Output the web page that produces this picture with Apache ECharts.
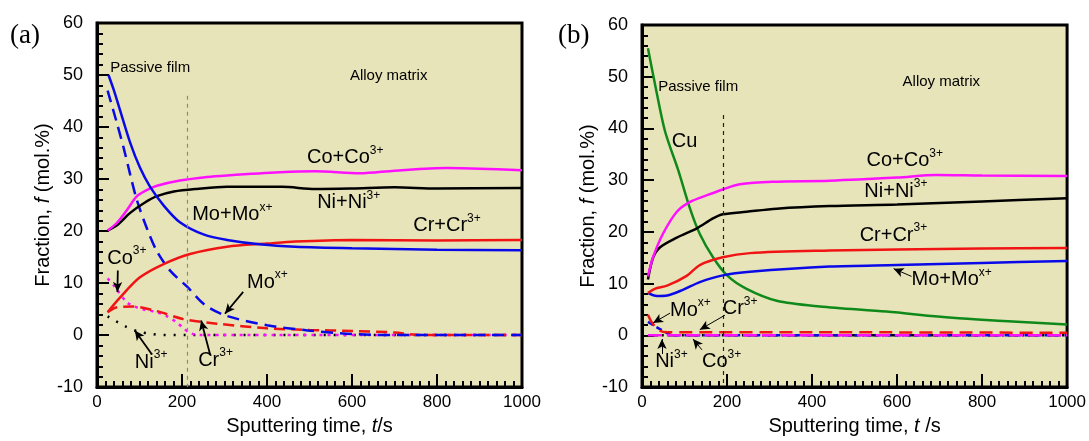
<!DOCTYPE html>
<html><head><meta charset="utf-8">
<script src="https://cdn.jsdelivr.net/npm/echarts@6/dist/echarts.min.js"></script>
<style>html,body{margin:0;padding:0;background:#fff}#c{width:1089px;height:441px}</style>
</head><body><div id="c"></div>
<script>
// ---------- axes ----------
const xMin = 0, xMax = 1000, xStep = 200;
const yMin = -10, yMax = 60, yStep = 10;

// ---------- panel (a) data: [time s, fraction mol.%] ----------
const aMoTotal = [[27,50],[40,47],[54,43.3],[78,37],[101,32.2],[125,28.5],[158,24.8],[195,21.7],[252,19.3],[306,18.3],[388,17.4],[466,17],[600,16.7],[800,16.4],[1000,16.3]];
const aCoTotal = [[25,20.1],[47,21.6],[71,24.1],[94,26.7],[118,27.9],[141,28.7],[195,29.7],[259,30.4],[306,30.7],[430,31.3],[513,31.5],[619,31.1],[700,31.6],[823,32.1],[900,32],[1000,31.7]];
const aNiTotal = [[25,20.1],[47,21.1],[78,23.5],[111,25.4],[141,26.7],[181,27.6],[235,28.1],[306,28.5],[435,28.5],[513,28.1],[600,28.2],[700,28.4],[800,28.2],[1000,28.3]];
const aCrTotal = [[25,4.4],[54,7.2],[101,11.1],[158,13.7],[219,15.6],[306,17],[400,17.6],[466,18],[600,18.3],[800,18.2],[1000,18.3]];
const aMoX = [[25,47],[47,40.7],[63,35.9],[78,30.9],[94,25.9],[118,20.4],[141,16.1],[172,12.4],[212,9.3],[254,5.8],[305,3.7],[400,1.9],[496,0.9],[600,0.2],[700,0],[1000,0]];
const aCr3 = [[25,4.4],[45,5.3],[85,5.5],[141,4.6],[202,3.1],[282,2.2],[400,1.3],[500,1],[600,0.8],[700,0.5],[760,0],[1000,0]];
const aCo3 = [[25,10.9],[40,9.5],[49,8.5],[70,6.3],[85,5.6],[110,4.9],[141,4.4],[165,3.6],[188,2.4],[205,1.2],[219,0.4],[240,0],[1000,0]];
const aNi3 = [[25,3.6],[40,2.9],[66,1.7],[96,0.7],[130,0.2],[153,0],[1000,0]];
const aBoundary = [[212,46],[212,-10]];

// ---------- panel (b) data ----------
const bCu = [[14,55.5],[30,48.8],[54,39.5],[85,32],[113,24.5],[136,19.6],[167,15.1],[200,11.6],[246,9],[317,6.7],[418,5.6],[575,4.6],[730,3.4],[850,2.8],[1000,2.1]];
const bCoTotal = [[14,11.4],[26,15.1],[49,19.6],[82,23.9],[113,25.8],[153,27.1],[190,28.2],[230,29.2],[307,29.7],[441,29.9],[600,30.5],[692,31],[800,30.9],[1000,30.8]];
const bNiTotal = [[14,10.8],[26,15],[42,17],[82,18.9],[129,20.7],[167,22.6],[190,23.4],[246,23.9],[317,24.5],[441,25],[600,25.3],[800,25.9],[1000,26.5]];
const bCrTotal = [[14,8.2],[30,9],[59,9.6],[105,11.5],[136,13.6],[190,15.1],[254,15.9],[441,16.4],[600,16.6],[800,16.8],[1000,16.9]];
const bMoTotal = [[14,8.2],[35,7.6],[59,7.7],[96,8.8],[136,10.3],[190,11.6],[254,12.3],[441,13.3],[600,13.6],[800,14],[1000,14.4]];
const bCr3 = [[14,4],[24,2.4],[42,0.9],[60,0.6],[400,0.6],[1000,0.5]];
const bMoX = [[14,2.6],[28,1.9],[49,0.9],[73,0],[1000,0]];
const bNi3 = [[14,0],[1000,0]];
const bCo3 = [[14,0],[1000,0]];
const bBoundary = [[190,42.6],[190,-10]];

// ---------- annotations (data coords) ----------
const aTexts = [
  ['Passive film', 31, 51.3, 'p'], ['Alloy matrix', 595, 49.8, 'p'],
  ['{n|Co+Co}{s|3+}', 494, 34.1, 'r'], ['{n|Ni+Ni}{s|3+}', 518, 25.4, 'r'],
  ['{n|Cr+Cr}{s|3+}', 744, 21.1, 'r'], ['{n|Mo+Mo}{s|x+}', 224, 23.1, 'r'],
  ['{n|Co}{s|3+}', 24, 14.8, 'r'], ['{n|Mo}{s|x+}', 353, 10.2, 'r'],
  ['{n|Ni}{s|3+}', 89, -5.2, 'r'], ['{n|Cr}{s|3+}', 238, -4.8, 'r']
];
const aArrows = [[[49,12.4],[48,8.3]], [[344,8.3],[301,4.1]], [[129,-3.7],[89,0.9]], [[266,-3.7],[245,2.8]]];
const bTexts = [
  ['Passive film', 38, 48, 'p'], ['Alloy matrix', 613, 49, 'p'], ['{n|Cu}', 70, 37.4, 'r'],
  ['{n|Co+Co}{s|3+}', 528, 33.8, 'r'], ['{n|Ni+Ni}{s|3+}', 523, 27.9, 'r'],
  ['{n|Cr+Cr}{s|3+}', 512, 19.4, 'r'], ['{n|Mo+Mo}{s|x+}', 634, 10.8, 'r'],
  ['{n|Mo}{s|x+}', 66, 4.9, 'r'], ['{n|Cr}{s|3+}', 190, 5.2, 'r'],
  ['{n|Ni}{s|3+}', 31, -5, 'r'], ['{n|Co}{s|3+}', 141, -5, 'r']
];
const bArrows = [[[634,11.4],[592,12.9]], [[66,4.3],[26,2.4]], [[195,3.9],[136,1.1]], [[47,-3.6],[47,-0.7]], [[141,-2.8],[120,-0.7]]];

const FONT = "'Liberation Sans', Arial, sans-serif";
const BLUE = '#0a0ae8', RED = '#f01414', MAG = '#ff10ff', BLK = '#000000', GRN = '#0f8a1a';
const BG = '#e8e4b9';

function xAx(i, title) {
  return {
    type: 'value', gridIndex: i, min: xMin, max: xMax, interval: xStep,
    axisLine: {show: true, onZero: false, lineStyle: {color: '#000', width: 3}},
    axisTick: {show: true, inside: true, length: 13, lineStyle: {color: '#000', width: 2}},
    minorTick: {show: true, splitNumber: 10, length: 6, lineStyle: {color: '#000', width: 2}},
    splitLine: {show: false},
    axisLabel: {color: '#000', fontSize: 17, fontFamily: FONT, margin: 7, formatter: v => String(v)},
    name: title, nameLocation: 'middle', nameGap: 27,
    nameTextStyle: {color: '#000', fontSize: 20, fontFamily: FONT, rich: {i: {fontStyle: 'italic', fontSize: 20, fontFamily: FONT}}}
  };
}
function yAx(i) {
  return {
    type: 'value', gridIndex: i, min: yMin, max: yMax, interval: yStep,
    axisLine: {show: true, onZero: false, lineStyle: {color: '#000', width: 3}},
    axisTick: {show: true, inside: true, length: 12, lineStyle: {color: '#000', width: 2}},
    minorTick: {show: true, splitNumber: 5, length: 6, lineStyle: {color: '#000', width: 2}},
    splitLine: {show: false},
    axisLabel: {color: '#000', fontSize: 18, fontFamily: FONT, margin: 14, formatter: v => String(v)},
    name: 'Fraction, {i|f} (mol.%)', nameLocation: 'middle', nameGap: 42, nameRotate: 90,
    nameTextStyle: {color: '#000', fontSize: 20, fontFamily: FONT, rich: {i: {fontStyle: 'italic', fontSize: 20, fontFamily: FONT}}}
  };
}
function line(i, data, color, type, width, z) {
  return {
    type: 'line', xAxisIndex: i, yAxisIndex: i, data: data, showSymbol: false,
    smooth: 0.3, z: z || 2,
    lineStyle: {color: color, width: width || 2.5, type: type || 'solid', cap: 'butt'},
    silent: true, animation: false
  };
}
function boundary(i, pts, color) {
  return {
    type: 'line', xAxisIndex: i, yAxisIndex: i, data: [], silent: true, animation: false,
    markLine: {silent: true, symbol: ['none', 'none'], animation: false, label: {show: false},
      lineStyle: {color: color, width: 1.2, type: [4, 4]},
      data: [[{coord: pts[0]}, {coord: pts[1]}]]}
  };
}
function arrows(i, list, w) {
  return {
    type: 'line', xAxisIndex: i, yAxisIndex: i, data: [], silent: true, animation: false,
    markLine: {silent: true, symbol: ['none', 'arrow'], symbolSize: [7, 10], animation: false, label: {show: false},
      lineStyle: {color: '#000', width: w, type: 'solid'},
      data: list.map(p => [{coord: p[0]}, {coord: p[1]}])}
  };
}

const chart = echarts.init(document.getElementById('c'), null, {renderer: 'canvas'});
chart.setOption({
  animation: false,
  backgroundColor: '#fff',
  grid: [
    {left: 97, top: 23, width: 425, height: 378, show: true, backgroundColor: BG, borderColor: '#000', borderWidth: 3},
    {left: 642, top: 25, width: 426, height: 377, show: true, backgroundColor: BG, borderColor: '#000', borderWidth: 3}
  ],
  xAxis: [xAx(0, 'Sputtering time, {i|t}/s'), xAx(1, 'Sputtering time, {i|t} /s')],
  yAxis: [yAx(0), yAx(1)],
  series: [
    boundary(0, aBoundary, '#8a8a80'),
    line(0, aNi3, BLK, [2, 8], 2.5),
    line(0, aCo3, MAG, [3, 5], 2.5),
    line(0, aCr3, RED, [11, 6], 2.5),
    line(0, aMoX, BLUE, [12, 7], 2.5),
    line(0, aCrTotal, RED),
    line(0, aNiTotal, BLK),
    line(0, aCoTotal, MAG),
    line(0, aMoTotal, BLUE),
    arrows(0, aArrows, 1.8),
    boundary(1, bBoundary, '#222'),
    line(1, bNi3, BLK, [10, 4, 2, 4], 2.5),
    line(1, bMoX, BLUE, [6, 4], 2.5),
    line(1, bCr3, RED, [13, 7], 2.5),
    line(1, bCo3, MAG, [14, 5], 2.5),
    line(1, bCu, GRN),
    line(1, bMoTotal, BLUE),
    line(1, bCrTotal, RED),
    line(1, bNiTotal, BLK),
    line(1, bCoTotal, MAG),
    arrows(1, bArrows, 1)
  ]
});

function texts(gi, list) {
  return list.map(t => {
    const p = chart.convertToPixel({gridIndex: gi}, [t[1], t[2]]);
    const plain = t[3] === 'p';
    return {
      type: 'text', silent: true, z: 50,
      style: {
        x: p[0], y: p[1], text: t[0], align: 'left', verticalAlign: 'middle',
        fill: '#000', font: plain ? ('15px ' + FONT) : ('20px ' + FONT),
        rich: {
          n: {fontSize: 20, fontFamily: FONT, fill: '#000', lineHeight: 26},
          s: {fontSize: 12, fontFamily: FONT, fill: '#000', lineHeight: 14, verticalAlign: 'top'}
        }
      }
    };
  });
}
const serif = "'Liberation Serif', 'DejaVu Serif', serif";
chart.setOption({
  graphic: texts(0, aTexts).concat(texts(1, bTexts)).concat([
    {type: 'text', silent: true, style: {x: 10, y: 36, text: '(a)', font: '27px ' + serif, fill: '#000', verticalAlign: 'middle'}},
    {type: 'text', silent: true, style: {x: 558, y: 36, text: '(b)', font: '27px ' + serif, fill: '#000', verticalAlign: 'middle'}}
  ])
});
</script></body></html>
